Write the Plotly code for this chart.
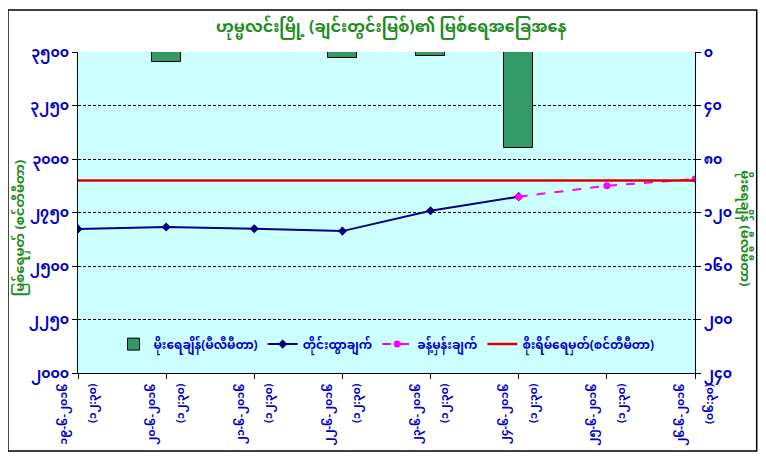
import plotly.graph_objects as go

# ဟုမ္မလင်း - ချင်းတွင်းမြစ် ရေမှတ်
dates = ["၁၉-၆-၂၀၁၆", "၂၀-၆-၂၀၁၆", "၂၁-၆-၂၀၁၆", "၂၂-၆-၂၀၁၆",
         "၂၃-၆-၂၀၁၆", "၂၄-၆-၂၀၁၆", "၂၅-၆-၂၀၁၆", "၂၆-၆-၂၀၁၆"]
times = ["(၁၂:၃၀)", "(၁၂:၃၀)", "(၁၂:၃၀)", "(၁၂:၃၀)",
         "(၁၂:၃၀)", "(၁၂:၃၀)", "(၁၂:၃၀)", "(၀၆:၃၀)"]

rain_mm = [None, 7.4, None, 4.4, 2.9, 72.0, None, None]
observed = [2673, 2682, 2674, 2663, 2758, 2824, None, None]
forecast = [None, None, None, None, None, 2824, 2875, 2906]
danger_level = 2900

left_ticks = [2000, 2250, 2500, 2750, 3000, 3250, 3500]
right_ticks = [0, 40, 80, 120, 160, 200, 240]

MM = str.maketrans("0123456789", "၀၁၂၃၄၅၆၇၈၉")


def mm_num(v):
    return str(v).translate(MM)


x = list(range(len(dates)))
# leading nbsp pushes the (centred) time line up towards the axis
labels = [d + "<br> <br>" + "\u00a0" * 7 + t for d, t in zip(dates, times)]

BLUE = "#0000cc"
GREEN = "#1e8c1e"
FONT = "Noto Sans Myanmar, Padauk, Myanmar Text, DejaVu Sans, sans-serif"

fig = go.Figure()

fig.add_trace(go.Bar(
    x=x, y=rain_mm, yaxis="y2", name="မိုးရေချိန်(မီလီမီတာ)",
    width=0.33, marker=dict(color="#339966", line=dict(color="black", width=1)),
))
fig.add_trace(go.Scatter(
    x=x, y=observed, name="တိုင်းထွာချက်", mode="lines+markers",
    line=dict(color="#000080", width=2),
    marker=dict(symbol="diamond", size=7, color="#000080"),
))
fig.add_trace(go.Scatter(
    x=x, y=forecast, name="ခန့်မှန်းချက်", mode="lines+markers",
    line=dict(color="#ff00ff", width=2, dash="dash"),
    marker=dict(symbol="circle", size=7, color="#ff00ff"),
))
fig.add_trace(go.Scatter(
    x=x, y=[danger_level] * len(x), name="စိုးရိမ်ရေမှတ်(စင်တီမီတာ)", mode="lines",
    line=dict(color="#dd0000", width=2.5),
))

# the page body has an 8px margin, so the figure is drawn 8px smaller
fig.update_layout(
    width=758, height=454,
    margin=dict(l=70, r=71, t=44, b=89, autoexpand=False),
    paper_bgcolor="white",
    plot_bgcolor="#ccffff",
    font=dict(family=FONT, color=BLUE, size=12),
    showlegend=True,
    legend=dict(
        orientation="h", x=0.5, xanchor="center", y=0.09, yanchor="middle",
        bgcolor="rgba(0,0,0,0)", font=dict(size=12, color=BLUE, weight="bold"),
        traceorder="normal", itemwidth=30,
    ),
    xaxis=dict(
        range=[0, 7], tickvals=x, ticktext=labels, tickangle=-90,
        showgrid=False, zeroline=False, showline=True, linecolor="black",
        ticks="outside", ticklen=5, tickcolor="black", automargin=False,
        tickfont=dict(size=11, color=BLUE, weight="bold"),
    ),
    yaxis=dict(
        range=[2000, 3500], tickvals=left_ticks,
        ticktext=[mm_num(v) for v in left_ticks],
        showgrid=True, gridcolor="black", griddash="3px,2px", gridwidth=1,
        zeroline=False, showline=True, linecolor="black", automargin=False,
        ticks="outside", ticklen=5, tickcolor="black",
        tickfont=dict(size=14, color=BLUE, weight="bold"),
    ),
    yaxis2=dict(
        range=[240, 0], tickvals=right_ticks,
        ticktext=[mm_num(v) for v in right_ticks],
        overlaying="y", side="right", showgrid=False, zeroline=False,
        showline=True, linecolor="black", automargin=False,
        ticks="outside", ticklen=5, tickcolor="black",
        tickfont=dict(size=14, color=BLUE, weight="bold"),
    ),
    bargap=0,
)

fig.add_annotation(
    text="<b>ဟုမ္မလင်းမြို့ (ချင်းတွင်းမြစ်)၏ မြစ်ရေအခြေအနေ</b>",
    xref="paper", yref="paper", x=0.508, y=1.0, yshift=24, yanchor="middle",
    showarrow=False, font=dict(size=16, color=GREEN),
)
fig.add_annotation(
    text="မြစ်ရေမှတ် (စင်တီမီတာ)", textangle=-90,
    xref="paper", yref="paper", x=-0.093, y=0.45, xanchor="center",
    showarrow=False, font=dict(size=13, color=GREEN, weight="bold"),
)
fig.add_annotation(
    text="မိုးရေချိန် (မီလီမီတာ)", textangle=90,
    xref="paper", yref="paper", x=1.08, y=0.45, xanchor="center",
    showarrow=False, font=dict(size=13, color=GREEN, weight="bold"),
)

# chart frame
fig.add_shape(type="rect", xref="paper", yref="paper",
              x0=-0.1135, x1=1.1, y0=-0.243, y1=1.131,
              line=dict(color="black", width=1.5), layer="below")

fig.write_html("out.html")
